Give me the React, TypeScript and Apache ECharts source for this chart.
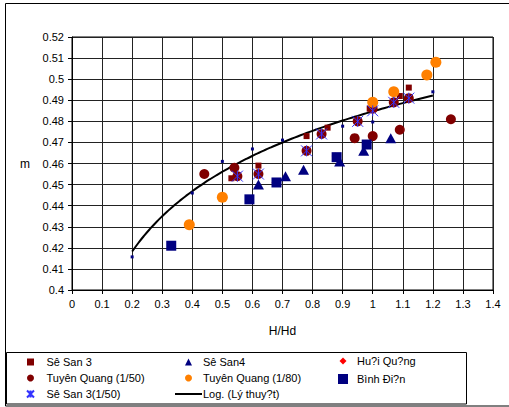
import React, { useEffect, useRef } from "react";
import * as echarts from "echarts";

const xTicks = { min: 0, max: 1.4, interval: 0.1 };
const yTicks = { min: 0.4, max: 0.52, interval: 0.01 };

const seSan3 = [[0.53, 0.453], [0.62, 0.459], [0.78, 0.473], [0.85, 0.477], [0.99, 0.486], [1.09, 0.492], [1.12, 0.496]];
const seSan4 = [[0.62, 0.45], [0.71, 0.454], [0.77, 0.457], [0.89, 0.461], [0.97, 0.466], [1.06, 0.472]];
const huoiQuang = [[0.33, 0.421], [0.59, 0.443], [0.675, 0.451], [0.875, 0.4635], [0.975, 0.4695]];
const tuyenQuang50 = [[0.44, 0.455], [0.54, 0.458], [0.55, 0.454], [0.62, 0.455], [0.78, 0.466], [0.83, 0.474], [0.94, 0.472], [0.95, 0.48], [1.0, 0.473], [1.0, 0.486], [1.07, 0.489], [1.09, 0.476], [1.12, 0.491], [1.26, 0.481]];
const tuyenQuang80 = [[0.39, 0.431], [0.5, 0.444], [1.0, 0.489], [1.07, 0.494], [1.18, 0.502], [1.21, 0.508]];
const binhDien = [[0.33, 0.421], [0.59, 0.443], [0.68, 0.451], [0.88, 0.463], [0.98, 0.469]];
const seSan3_50 = [[0.55, 0.454], [0.62, 0.455], [0.78, 0.466], [0.83, 0.474], [0.95, 0.48], [1.0, 0.485], [1.07, 0.489], [1.12, 0.491]];
const theory = [[0.2, 0.4157], [0.4, 0.446], [0.5, 0.461], [0.6, 0.4669], [0.7, 0.4711], [0.9, 0.4777], [1.0, 0.4797], [1.2, 0.494]];

const names = {
  s3: "Sê San 3",
  s4: "Sê San4",
  hq: "Hu?i Qu?ng",
  tq50: "Tuyên Quang (1/50)",
  tq80: "Tuyên Quang (1/80)",
  bd: "Bình Đi?n",
  s350: "Sê San 3(1/50)",
  log: "Log. (Lý thuy?t)",
};

// logarithmic trendline (least squares on ln x) fitted to the theory points
function logTrend(pts: number[][]) {
  const n = pts.length;
  const lx = pts.map((p) => Math.log(p[0]));
  const ys = pts.map((p) => p[1]);
  const mx = lx.reduce((a, b) => a + b, 0) / n;
  const my = ys.reduce((a, b) => a + b, 0) / n;
  let sxy = 0, sxx = 0;
  for (let i = 0; i < n; i++) {
    sxy += (lx[i] - mx) * (ys[i] - my);
    sxx += (lx[i] - mx) * (lx[i] - mx);
  }
  const b = sxy / sxx;
  const a = my - b * mx;
  const x0 = pts[0][0];
  const x1 = pts[n - 1][0];
  const out: number[][] = [];
  for (let i = 0; i <= 50; i++) {
    const x = x0 + ((x1 - x0) * i) / 50;
    out.push([x, a + b * Math.log(x)]);
  }
  return out;
}

const FONT = "Liberation Sans, Arial, sans-serif";
const STAR = "path://M0,0L10,10M10,0L0,10M5,0L5,10";
const ICON_SQ = "path://M0,0H10V10H0Z";
const ICON_TRI = "path://M5,0L10,10H0Z";
const ICON_DIA = "path://M0,0M10,10M5,1.5L8.5,5L5,8.5L1.5,5Z";
const ICON_LINE = "path://M0,0H27V2H0Z";

export default function App() {
  const ref = useRef<HTMLDivElement>(null);
  useEffect(() => {
    if (!ref.current) return;
    const chart = echarts.init(ref.current, null, { renderer: "svg" });
    const ts = { fontFamily: FONT, fontSize: 11, color: "#000", lineHeight: 12 };
    chart.setOption({
      animation: false,
      backgroundColor: "#fff",
      grid: { left: 72, top: 37, width: 421, height: 253, show: true, borderColor: "#000", borderWidth: 1, containLabel: false },
      xAxis: {
        type: "value",
        min: xTicks.min,
        max: xTicks.max,
        interval: xTicks.interval,
        name: "H/Hd",
        nameLocation: "middle",
        nameGap: 35,
        nameTextStyle: { fontFamily: FONT, fontSize: 12, color: "#000" },
        axisLine: { show: true, lineStyle: { color: "#000" } },
        axisTick: { show: true, length: 4, lineStyle: { color: "#000" } },
        axisLabel: { fontFamily: FONT, fontSize: 11, color: "#000", margin: 8, formatter: (v: number) => String(+v.toFixed(1)) },
        splitLine: { show: true, lineStyle: { color: "#222", width: 1 } },
      },
      yAxis: {
        type: "value",
        min: yTicks.min,
        max: yTicks.max,
        interval: yTicks.interval,
        name: "m",
        nameLocation: "middle",
        nameRotate: 0,
        nameGap: 42,
        nameTextStyle: { fontFamily: FONT, fontSize: 12, color: "#000" },
        axisLine: { show: true, lineStyle: { color: "#000" } },
        axisTick: { show: true, length: 4, lineStyle: { color: "#000" } },
        axisLabel: { fontFamily: FONT, fontSize: 11, color: "#000", margin: 8, formatter: (v: number) => String(+v.toFixed(2)) },
        splitLine: { show: true, lineStyle: { color: "#222", width: 1 } },
      },
      legend: [
        {
          orient: "vertical", top: 356, left: 26, itemWidth: 14, itemHeight: 7, itemGap: 4, padding: 0,
          textStyle: { ...ts, padding: [0, 0, 0, 4] },
          data: [{ name: names.s3, icon: ICON_SQ }, { name: names.tq50 }, { name: names.s350 }],
        },
        {
          orient: "vertical", top: 356, left: 175, itemWidth: 27, itemHeight: 7, itemGap: 4, padding: 0,
          textStyle: { ...ts, padding: [0, 0, 0, -4] },
          data: [{ name: names.s4, icon: ICON_TRI }, { name: names.tq80 }, { name: names.log, icon: ICON_LINE }],
        },
        {
          orient: "vertical", top: 355, left: 338, itemWidth: 10, itemHeight: 10, itemGap: 6, padding: 0,
          textStyle: { ...ts, padding: [0, 0, 0, 4] },
          data: [{ name: names.hq, icon: ICON_DIA }, { name: names.bd, icon: ICON_SQ }],
        },
      ],
      graphic: [
        { type: "rect", shape: { x: 5.5, y: 3.5, width: 520, height: 402.5 }, style: { fill: "none", stroke: "#000", lineWidth: 1 }, silent: true, z: -1 },
        { type: "rect", shape: { x: 6.5, y: 352.5, width: 460, height: 51.5 }, style: { fill: "none", stroke: "#000", lineWidth: 1 }, silent: true },
      ],
      series: [
        { name: names.s3, type: "scatter", data: seSan3, symbol: "rect", symbolSize: 6, itemStyle: { color: "#800000", opacity: 1 } },
        { name: names.s4, type: "scatter", data: seSan4, symbol: "triangle", symbolSize: [11, 10], itemStyle: { color: "#000080", opacity: 1 } },
        { name: names.hq, type: "scatter", data: huoiQuang, symbol: "diamond", symbolSize: 7, itemStyle: { color: "#ff0000", opacity: 1 } },
        { name: names.tq50, type: "scatter", data: tuyenQuang50, symbol: "circle", symbolSize: 10, itemStyle: { color: "#800000", opacity: 1 } },
        { name: names.tq80, type: "scatter", data: tuyenQuang80, symbol: "circle", symbolSize: 11, itemStyle: { color: "#ff8000", opacity: 1 } },
        { name: names.bd, type: "scatter", data: binhDien, symbol: "rect", symbolSize: 10, itemStyle: { color: "#000080", opacity: 1 } },
        { name: names.s350, type: "scatter", data: seSan3_50, symbol: STAR, symbolSize: 11, itemStyle: { color: "#3333ff", borderColor: "#3333ff", borderWidth: 1, opacity: 1 } },
        { name: "Lý thuy?t", type: "scatter", data: theory, symbol: "rect", symbolSize: 3, itemStyle: { color: "#000080", opacity: 1 }, z: 3 },
        { name: names.log, type: "line", data: logTrend(theory), smooth: true, symbol: "none", lineStyle: { color: "#000", width: 2 }, itemStyle: { color: "#000" }, z: 2 },
      ],
    });
    return () => chart.dispose();
  }, []);
  return <div ref={ref} style={{ position: "fixed", left: 0, top: 0, width: 509, height: 407 }} />;
}
